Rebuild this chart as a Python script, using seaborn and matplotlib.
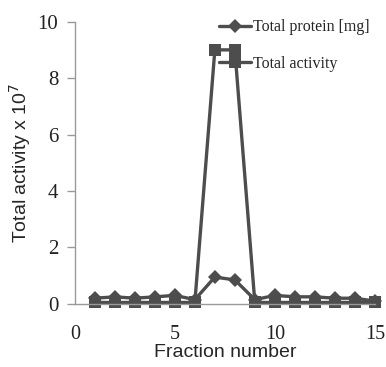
#! /usr/bin/env python3

import pandas as pd
import matplotlib.pyplot as plt
import seaborn as sns

fractions = list(range(1, 16))
total_protein = [0.2, 0.25, 0.2, 0.25, 0.3, 0.15, 0.95, 0.85, 0.15, 0.3, 0.25, 0.25, 0.2, 0.2, 0.1]
total_activity = [0.05, 0.05, 0.05, 0.05, 0.05, 0.05, 9.0, 9.0, 0.05, 0.05, 0.05, 0.05, 0.05, 0.05, 0.05]

x_ticks = [0, 5, 10, 15]
y_ticks = [0, 2, 4, 6, 8, 10]

COLOR = '#4d4d4d'
AXIS_COLOR = '#9a9a9a'


def make_frame() -> pd.DataFrame:
    return pd.DataFrame({
        'fraction': fractions,
        'protein': total_protein,
        'activity': total_activity,
    })


if __name__ == '__main__':
    sns.set_style('white')
    # tick numbers and legend use a Times-like face
    plt.rcParams['font.family'] = ['Liberation Serif', 'DejaVu Serif']
    data = make_frame()

    fig = plt.figure(figsize=(3.86, 3.67), dpi=100)
    ax = fig.add_axes([0.194, 0.172, 0.777, 0.769])

    sns.lineplot(x='fraction', y='protein', data=data, ax=ax, color=COLOR,
                 lw=2.4, marker='D', markersize=7, markeredgewidth=0,
                 label='Total protein [mg]', clip_on=False)
    sns.lineplot(x='fraction', y='activity', data=data, ax=ax, color=COLOR,
                 lw=2.4, marker='s', markersize=9, markeredgewidth=0,
                 label='Total activity', clip_on=False)

    ax.set_xlim(0, 15)
    ax.set_ylim(0, 10)
    ax.set_xticks(x_ticks)
    ax.set_yticks(y_ticks)

    for side in ['top', 'right']:
        ax.spines[side].set_visible(False)
    for side in ['left', 'bottom']:
        ax.spines[side].set_color(AXIS_COLOR)
        ax.spines[side].set_linewidth(1.0)

    ax.tick_params(axis='y', length=6, width=1, color=AXIS_COLOR, pad=6,
                   left=True, direction='out', labelsize=15)
    ax.tick_params(axis='x', length=0, pad=15, bottom=False, labelsize=14.5)
    ax.tick_params(labelcolor='#222222')

    ax.set_xlabel('Fraction number', fontfamily='Liberation Sans', fontsize=14, labelpad=0)
    ax.set_ylabel('Total activity x 10$^7$', fontfamily='Liberation Sans', fontsize=14, labelpad=3)

    ax.legend(loc='upper right', bbox_to_anchor=(1.03, 1.06), frameon=False,
              handlelength=2.0, handletextpad=0.1, labelspacing=1.3,
              prop={'family': 'Liberation Serif', 'size': 11.5})

    fig.savefig('out.png', dpi=100)
